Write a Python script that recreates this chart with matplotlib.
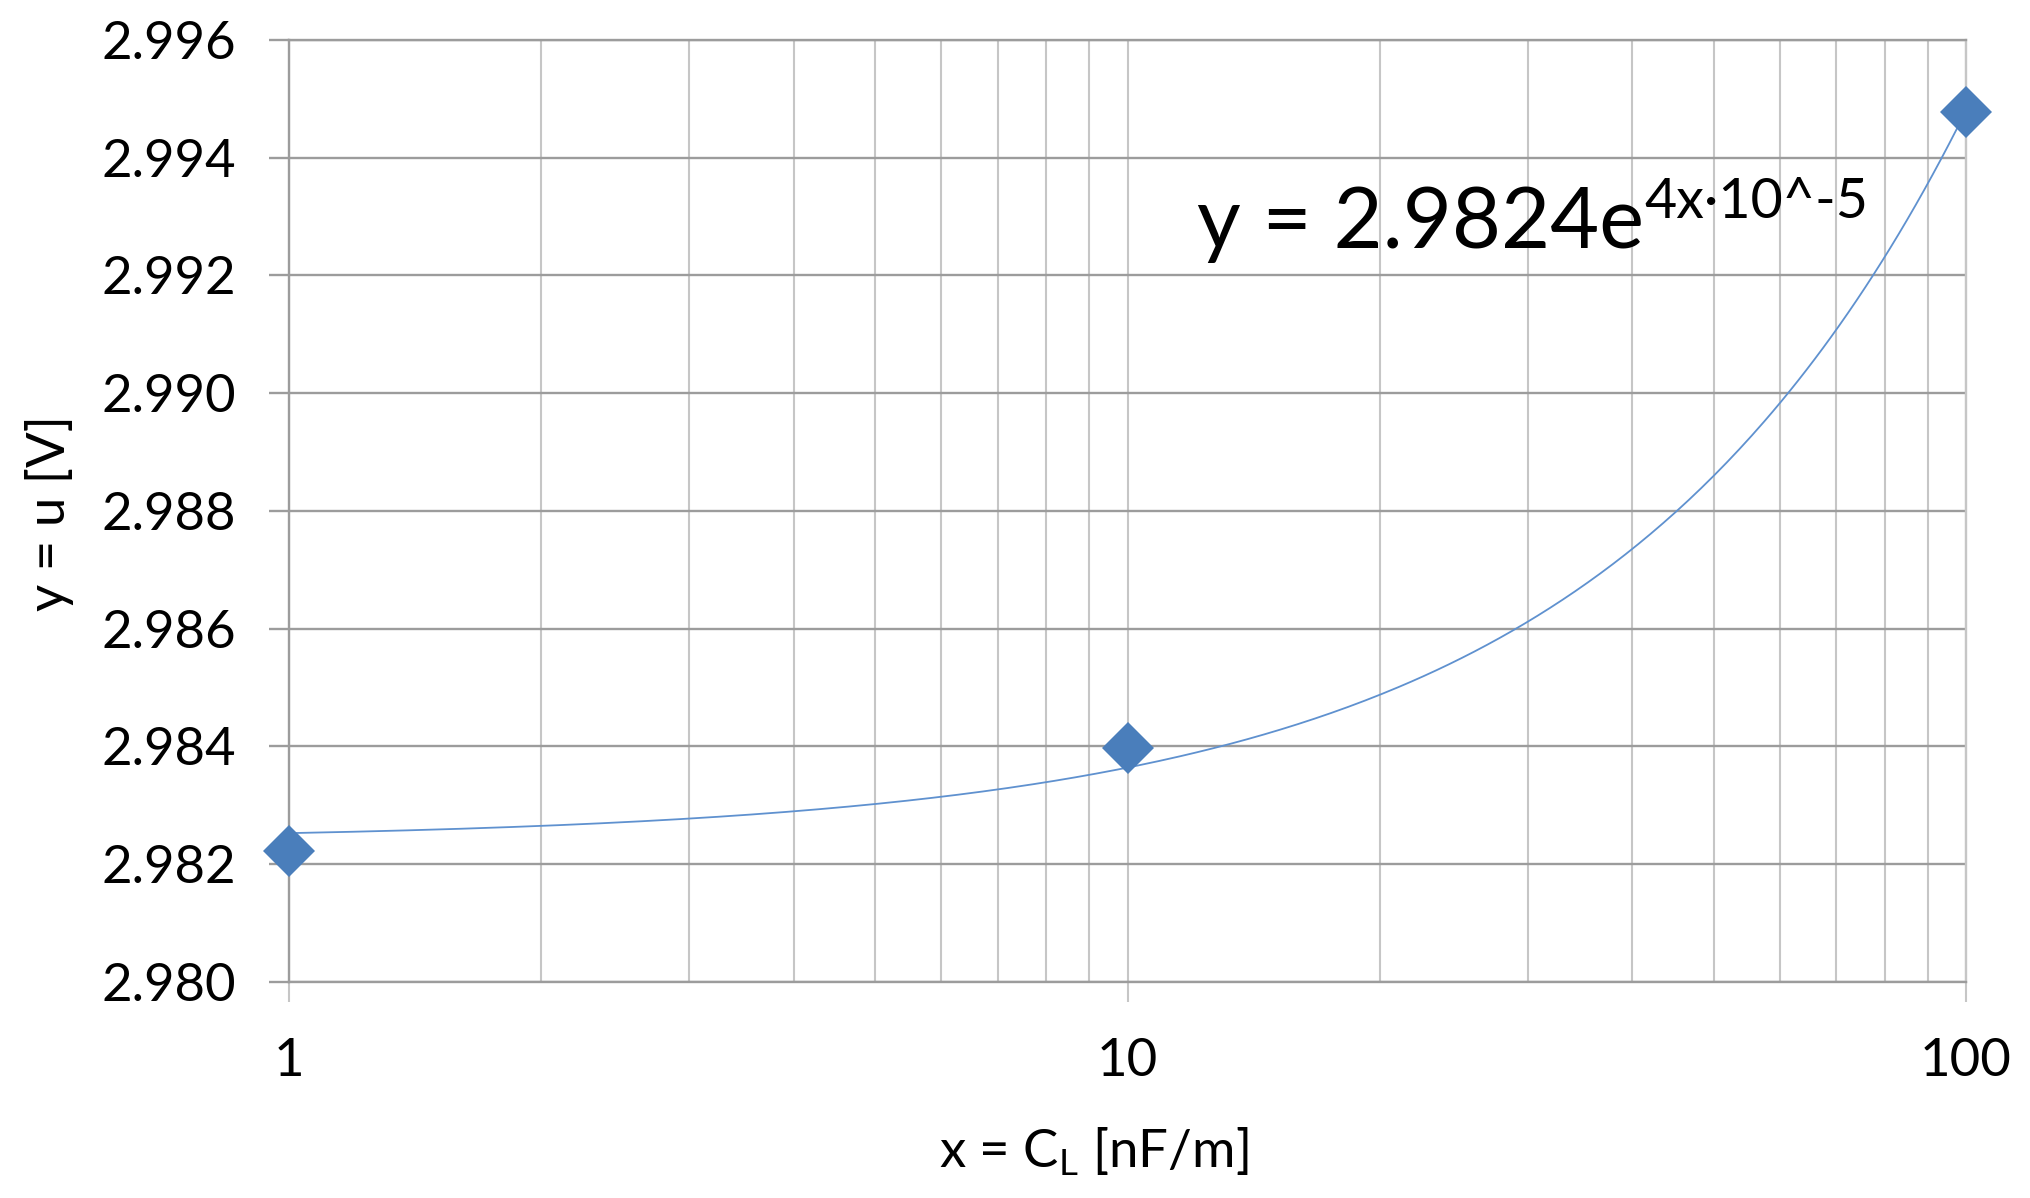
import matplotlib
matplotlib.use('Agg')
import matplotlib.pyplot as plt
from matplotlib.ticker import LogLocator, NullFormatter
import numpy as np

plt.rcParams['font.family'] = ['Lato', 'DejaVu Sans']
plt.rcParams['mathtext.fontset'] = 'custom'
plt.rcParams['mathtext.rm'] = 'Lato'
plt.rcParams['mathtext.it'] = 'Lato:italic'

# measured points
cl = [1, 10, 100]                      # x = C_L [nF/m]
u = [2.98223, 2.98397, 2.99477]        # y = u [V]

x_ticks = [1, 10, 100]
x_tick_labels = ['1', '10', '100']
y_ticks = [2.980, 2.982, 2.984, 2.986, 2.988, 2.990, 2.992, 2.994, 2.996]

x_label = 'x = C$_{\\mathregular{L}}$ [nF/m]'
y_label = 'y = u [V]'
eq_main = 'y = 2.9824e'
eq_sup = '4x·10^-5'

BLUE = '#4a7ebb'
GRID_H = '#9c9c9c'
GRID_V = '#c6c6c6'

fig = plt.figure(figsize=(20.3, 11.98), dpi=100)
ax = fig.add_axes([289 / 2030, 1 - 982 / 1198, (1966 - 289) / 2030, (982 - 40) / 1198])

# exponential trendline fitted like Excel does: ln(y) = ln(a) + b*x
b, ln_a = np.polyfit(cl, np.log(u), 1)
xf = np.logspace(0, 2, 400)
ax.plot(xf, np.exp(ln_a) * np.exp(b * xf), color='#5f91cf', lw=1.3, zorder=3)

ax.plot(cl, u, linestyle='none', marker='D', ms=26.5, mew=0, color=BLUE,
        clip_on=False, zorder=5)

ax.set_xscale('log')
ax.set_xlim(1, 100)
ax.set_ylim(2.980, 2.996)
ax.set_xticks(x_ticks)
ax.set_xticklabels(x_tick_labels)
ax.xaxis.set_minor_locator(LogLocator(base=10, subs=np.arange(2, 10)))
ax.xaxis.set_minor_formatter(NullFormatter())
ax.set_yticks(y_ticks)
ax.set_yticklabels(['%.3f' % v for v in y_ticks])

ax.grid(which='both', axis='x', color=GRID_V, lw=1.5)
ax.grid(which='major', axis='y', color=GRID_H, lw=1.7)
ax.set_axisbelow(True)

ax.spines['left'].set_color(GRID_H)
ax.spines['bottom'].set_color(GRID_H)
ax.spines['top'].set_color(GRID_H)
ax.spines['right'].set_color(GRID_V)
for s in ax.spines.values():
    s.set_linewidth(1.7)

ax.tick_params(axis='x', which='major', length=14.4, width=1.5, color=GRID_V,
               labelsize=38, pad=26)
ax.tick_params(axis='y', which='major', length=14.4, width=1.7, color=GRID_H,
               labelsize=38, pad=24)
ax.tick_params(axis='x', which='minor', length=0)

fig.text(50 / 2030, 1 - 513 / 1198, y_label, rotation=90, ha='center', va='center',
         fontsize=38)
fig.text(1094 / 2030, 1 - 1168 / 1198, x_label, ha='center', va='baseline',
         fontsize=38)

# trendline equation
fig.text(1197 / 2030, 1 - 248 / 1198, eq_main, ha='left', va='baseline', fontsize=61)
fig.text(1644 / 2030, 1 - 218 / 1198, eq_sup, ha='left', va='baseline', fontsize=40)

fig.savefig('out.png', dpi=100)
